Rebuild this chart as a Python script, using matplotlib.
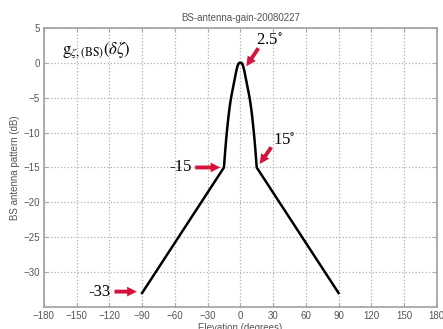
import numpy as np
import matplotlib.pyplot as plt

plt.rcParams['mathtext.fontset'] = 'stix'

# elevation (deg) and gain (dB)
elev = [-90, -15, -14, -13, -12, -11, -10, -9, -8, -7, -6, -5, -4, -3, -2, -1,
        0, 1, 2, 3, 4, 5, 6, 7, 8, 9, 10, 11, 12, 13, 14, 15, 90]
gain = [-33, -15, -12.9, -11.0, -9.4, -7.9, -6.6, -5.5, -4.6, -3.8, -3.0, -2.2,
        -1.4, -0.7, -0.2, 0.0, 0.0, 0.0, -0.2, -0.7, -1.4, -2.2, -3.0, -3.8,
        -4.6, -5.5, -6.6, -7.9, -9.4, -11.0, -12.9, -15, -33]

xticks = np.arange(-180, 181, 30)
yticks = np.arange(-30, 6, 5)

red = '#d4143c'
grey = '#555555'

fig = plt.figure(figsize=(4.43, 3.29), dpi=100)
ax = fig.add_axes([0.099, 0.067, 0.887, 0.848])
ax.plot(elev, gain, color='black', lw=1.8, solid_joinstyle='round')
ax.set_xlim(-180, 180)
ax.set_ylim(-35, 5)
ax.set_xticks(xticks)
ax.set_yticks(yticks)
ax.grid(True, color='#b0b0b0', linestyle=':', linewidth=0.9)
ax.tick_params(direction='in', length=3, labelsize=7, colors='#aaaaaa',
               labelcolor=grey, pad=3, top=True, right=True)
for s in ax.spines.values():
    s.set_color('#a0a0a0')
    s.set_linewidth(1.2)

ax.set_title('BS-antenna-gain-20080227', fontsize=7, color=grey,
             family='Liberation Sans', pad=5)
ax.set_xlabel('Elevation (degrees)', fontsize=7, color=grey,
              family='Liberation Sans', labelpad=1)
ax.set_ylabel('BS antenna pattern (dB)', fontsize=7, color=grey,
              family='Liberation Sans', labelpad=2)
for lab in ax.get_xticklabels() + ax.get_yticklabels():
    lab.set_family('Liberation Sans')

arrow = dict(arrowstyle='simple,head_length=0.7,head_width=0.7,tail_width=0.28',
             color=red, lw=0, shrinkA=0, shrinkB=0)
ax.annotate('', xy=(5.5, -0.5), xytext=(16.5, 2.1), arrowprops=arrow)
ax.annotate('', xy=(17.7, -14.5), xytext=(28.4, -12.1), arrowprops=arrow)
ax.annotate('', xy=(-18.3, -15), xytext=(-41.3, -15), arrowprops=arrow)
ax.annotate('', xy=(-94.8, -32.8), xytext=(-115.3, -32.8), arrowprops=arrow)

serif = dict(family='Liberation Serif', fontsize=12, color='black')
ax.text(14.7, 3.2, r'2.5$^{\circ}$', ha='left', va='center', **serif)
ax.text(29.5, -11.2, r'15$^{\circ}$', ha='left', va='center', **serif)
ax.text(-44.5, -15, '-15', ha='right', va='center', **serif)
ax.text(-119, -32.8, '-33', ha='right', va='center', **serif)
ax.text(-163, 1.8, r'$\mathrm{g}_{\zeta,(\mathrm{BS})}(\delta\zeta)$',
        ha='left', va='center', fontsize=12)

fig.savefig('out.png', dpi=100)
